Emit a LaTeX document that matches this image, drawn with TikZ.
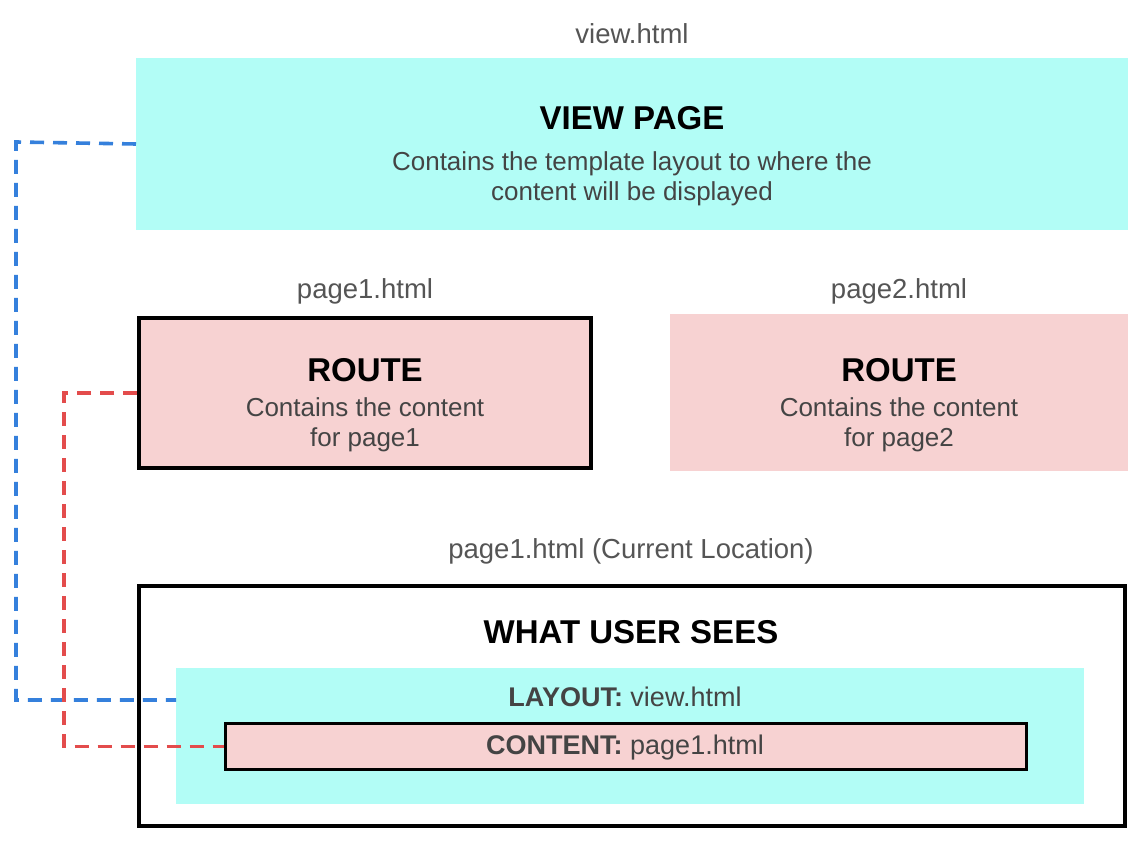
\documentclass[tikz,border=0pt]{standalone}
\usepackage{fontspec}
\setmainfont{Liberation Sans}
\usetikzlibrary{calc}
\definecolor{cyanfill}{RGB}{178,253,246}
\definecolor{pinkfill}{RGB}{247,210,210}
\definecolor{bluedash}{RGB}{53,128,220}
\definecolor{reddash}{RGB}{227,76,76}
\definecolor{bodytext}{RGB}{68,68,68}
\definecolor{labeltext}{RGB}{85,85,85}
\tikzset{
  box/.style={rectangle, anchor=north west, inner sep=0pt, outer sep=0pt},
  titletext/.style={font=\fontsize{33}{38}\selectfont\bfseries, text=black, inner sep=0pt},
  bodytxt/.style={font=\fontsize{26}{29.5}\selectfont, text=bodytext, align=center, inner sep=0pt},
  labeltxt/.style={font=\fontsize{27.5}{30}\selectfont, text=labeltext, inner sep=0pt},
  innertxt/.style={font=\fontsize{27}{30}\selectfont, text=bodytext, inner sep=0pt},
  conn/.style={line width=3.6pt, dash pattern=on 14pt off 9pt},
}
\begin{document}
\begin{tikzpicture}[x=1pt,y=-1pt]
\useasboundingbox[fill=white] (0,0) rectangle (1148,850);
% view page
\node[labeltxt] (viewlbl) at (632,34) {view.html};
\node[box, fill=cyanfill, minimum width=992, minimum height=172] (view) at (136,58) {};
\node[titletext] (viewtitle) at (632,118) {VIEW PAGE};
\node[bodytxt] (viewbody) at (632,179) {Contains the template layout to where the\\content will be displayed};
% page1
\node[labeltxt] (p1lbl) at (365,291) {page1.html};
\node[box, fill=pinkfill, draw=black, line width=4pt, minimum width=452, minimum height=150] (page1) at (139,318) {};
\node[titletext] (p1title) at (365,370) {ROUTE};
\node[bodytxt] (p1body) at (365,425) {Contains the content\\for page1};
% page2
\node[labeltxt] (p2lbl) at (899,291) {page2.html};
\node[box, fill=pinkfill, minimum width=458, minimum height=157] (page2) at (670,314) {};
\node[titletext] (p2title) at (899,370) {ROUTE};
\node[bodytxt] (p2body) at (899,425) {Contains the content\\for page2};
% what user sees
\node[labeltxt] (curlbl) at (631,551) {page1.html (Current Location)};
\node[box, fill=white, draw=black, line width=4pt, minimum width=986, minimum height=240] (sees) at (139,586) {};
\node[titletext] (seestitle) at (631,632) {WHAT USER SEES};
\node[box, fill=cyanfill, minimum width=908, minimum height=136] (layout) at (176,668) {};
\node[innertxt] (laylbl) at (625,697) {\textbf{LAYOUT:} view.html};
\node[box, fill=pinkfill, draw=black, line width=3pt, minimum width=801, minimum height=46] (content) at (225.5,723.5) {};
\node[innertxt] (contlbl) at (625,748) {\textbf{CONTENT:} page1.html};
% connectors
\coordinate (layin) at ([yshift=-32pt]layout.north west);
\draw[conn, bluedash] (view.west) -- (16,142) |- (layin);
\draw[conn, reddash] ([xshift=-2pt]page1.west) -- (64,393) |- ([xshift=-1.5pt]content.west);
\end{tikzpicture}
\end{document}
